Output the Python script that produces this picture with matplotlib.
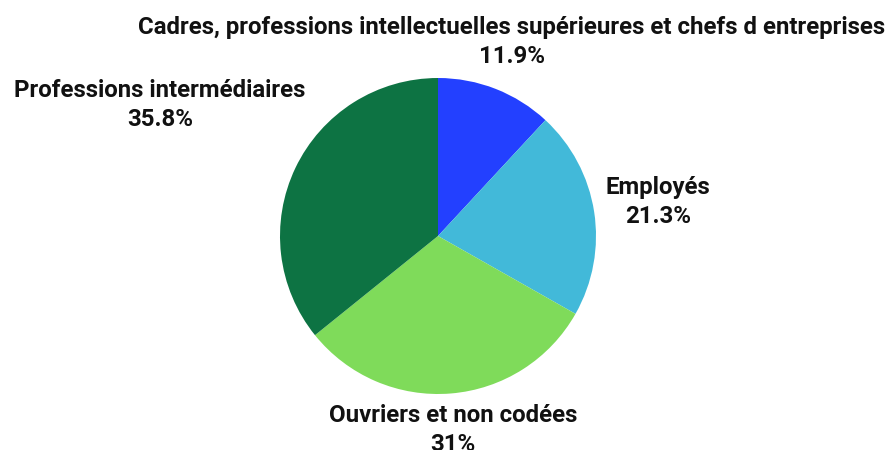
import matplotlib
matplotlib.use("Agg")
import matplotlib.pyplot as plt

categories = [
    "Cadres, professions intellectuelles supérieures et chefs d entreprises",
    "Employés",
    "Ouvriers et non codées",
    "Professions intermédiaires",
]
shares = [11.9, 21.3, 31.0, 35.8]
share_labels = ["11.9%", "21.3%", "31%", "35.8%"]
colors = ["#2340FF", "#42B9D9", "#7FDB5A", "#0D7343"]

# label centres in pixels (x, y from top)
label_pos = [(512, 42), (658, 202), (453, 430), (160, 105)]
label_size = [17.3, 17.3, 17.3, 17.3]

W, H = 896, 450
fig = plt.figure(figsize=(W / 100, H / 100), dpi=100)
cx, cy, r = 438, 236, 158
ax = fig.add_axes([(cx - r) / W, (H - cy - r) / H, 2 * r / W, 2 * r / H])
ax.pie(shares, colors=colors, startangle=90, counterclock=False, radius=1,
       wedgeprops=dict(linewidth=0))
ax.set_xlim(-1, 1)
ax.set_ylim(-1, 1)
ax.set_aspect("equal")
ax.axis("off")

for cat, lab, (x, y), fs in zip(categories, share_labels, label_pos, label_size):
    fig.text(x / W, 1 - y / H, f"{cat}\n{lab}", ha="center", va="center",
             fontsize=fs, fontweight="bold", family="Roboto", color="#111111",
             linespacing=1.32)

fig.savefig("out.png", dpi=100)
